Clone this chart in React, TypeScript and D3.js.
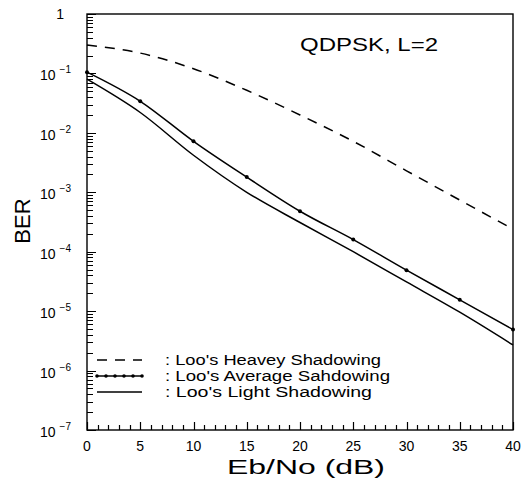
import React from "react";
import * as d3 from "d3";

const snr = [0, 5, 10, 15, 20, 25, 30, 35, 40];
const heavy = [0.3, 0.22, 0.12, 0.052, 0.02, 0.0072, 0.0023, 0.00074, 0.00024];
const average = [0.105, 0.034, 0.0072, 0.0018, 0.00048, 0.00016, 0.000049, 0.0000155, 0.0000049];
const light = [0.08, 0.022, 0.0042, 0.001, 0.00031, 0.0001, 0.000031, 0.0000096, 0.0000027];
const xTicks = [0, 5, 10, 15, 20, 25, 30, 35, 40];
const yExps = [0, -1, -2, -3, -4, -5, -6, -7];
const legendLabels = [": Loo's Heavey Shadowing", ": Loo's Average Sahdowing", ": Loo's Light Shadowing"];

const W = 526, H = 478;
const L = 87, R = 513, T = 14, B = 430;
const FONT = "'Liberation Sans', Arial, sans-serif";

export default function App() {
  const x = d3.scaleLinear().domain([0, 40]).range([L, R]);
  const y = d3.scaleLog().domain([1e-7, 1]).range([B, T]);
  const mk = (vals: number[]) =>
    d3.line<number>().x((_, i) => x(snr[i])).y((v) => y(v)).curve(d3.curveMonotoneX)(vals) || "";

  const minorX = d3.range(0, 41, 1);
  const minorY: number[] = [];
  for (let e = -7; e < 0; e++) for (let m = 2; m <= 9; m++) minorY.push(m * Math.pow(10, e));

  let tickPath = "";
  minorX.forEach((v) => {
    const px = Math.round(x(v)) + 0.5;
    tickPath += `M${px},${B}V${B - (v % 5 === 0 ? 8 : 5)}`;
  });
  minorY.forEach((v) => {
    const py = Math.round(y(v)) + 0.5;
    tickPath += `M${L},${py}H${L + 6}`;
  });
  yExps.forEach((e) => {
    const py = Math.round(y(Math.pow(10, e))) + 0.5;
    tickPath += `M${L},${py}H${L + 9}`;
  });

  const legY = [360, 376, 392];
  return (
    <svg width={W} height={H} style={{ position: "absolute", left: 0, top: 0, background: "#fff" }}>
      <rect x={0} y={0} width={W} height={H} fill="#fff" />
      {/* frame */}
      <rect x={L} y={T} width={R - L} height={B - T} fill="none" stroke="#000" strokeWidth={1.4} />
      {/* ticks */}
      <path d={tickPath} fill="none" stroke="#000" strokeWidth={1.2} />
      {xTicks.map((v) => (
        <text key={"xl" + v} x={x(v)} y={451} textAnchor="middle" fontSize={14} fontFamily={FONT}>{v}</text>
      ))}
      {yExps.map((e) =>
        e === 0 ? (
          <text key={"yl" + e} x={64} y={y(1) + 5} textAnchor="end" fontSize={14} fontFamily={FONT}>1</text>
        ) : (
          <text key={"yl" + e} x={40} y={y(Math.pow(10, e)) + 7} fontSize={14} fontFamily={FONT}>
            10
            <tspan dx={4} dy={-7} fontSize={10}>{"\u2212" + -e}</tspan>
          </text>
        )
      )}
      {/* curves */}
      <path d={mk(heavy)} fill="none" stroke="#000" strokeWidth={1.5} strokeDasharray="10,8" />
      <path d={mk(average)} fill="none" stroke="#000" strokeWidth={1.5} />
      <path d={mk(light)} fill="none" stroke="#000" strokeWidth={1.5} />
      {average.map((v, i) => (
        <circle key={"d" + i} cx={x(snr[i])} cy={y(v)} r={2} fill="#000" />
      ))}
      {/* legend */}
      <line x1={97} x2={142} y1={legY[0]} y2={legY[0]} stroke="#000" strokeWidth={1.5} strokeDasharray="10,8" />
      <line x1={97} x2={142} y1={legY[1]} y2={legY[1]} stroke="#000" strokeWidth={1.5} />
      {d3.range(97, 143, 9).map((px) => (
        <circle key={"ld" + px} cx={px} cy={legY[1]} r={1.8} fill="#000" />
      ))}
      <line x1={97} x2={142} y1={legY[2]} y2={legY[2]} stroke="#000" strokeWidth={1.5} />
      {legendLabels.map((s, i) => (
        <text key={"lg" + i} x={165} y={legY[i] + 5} fontSize={14} fontFamily={FONT} textLength={s.length * 9} lengthAdjust="spacingAndGlyphs">{s}</text>
      ))}
      {/* title */}
      <text x={300} y={51} fontSize={18} fontFamily={FONT} textLength={138} lengthAdjust="spacingAndGlyphs">QDPSK,  L=2</text>
      {/* axis labels */}
      <text x={306} y={474} textAnchor="middle" fontSize={20} fontFamily={FONT} textLength={158} lengthAdjust="spacingAndGlyphs">Eb/No (dB)</text>
      <text transform={`translate(30,221) rotate(-90)`} textAnchor="middle" fontSize={22} fontFamily={FONT}>BER</text>
    </svg>
  );
}
